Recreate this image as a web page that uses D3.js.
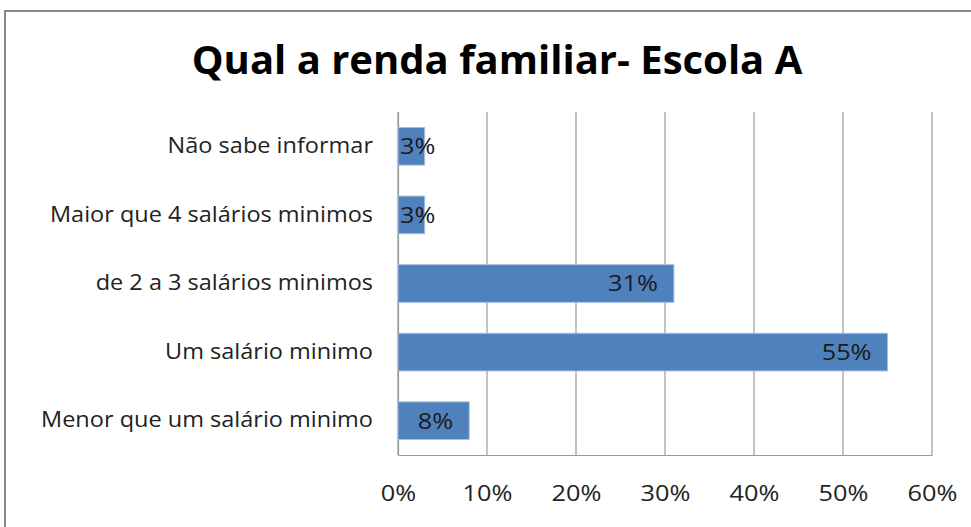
<!DOCTYPE html>
<html>
<head>
<meta charset="utf-8">
<script src="https://cdn.jsdelivr.net/npm/d3@7"></script>
<style>
  body { margin: 0; background: #fff; }
  text { font-family: "Open Sans", sans-serif; }
</style>
</head>
<body>
<div id="chart"></div>
<script>
var categories = ["Não sabe informar", "Maior que 4 salários minimos", "de 2 a 3 salários minimos", "Um salário minimo", "Menor que um salário minimo"];
var values = [3, 3, 31, 55, 8];
var tickValues = [0, 10, 20, 30, 40, 50, 60];

var W = 971, H = 527;
var margin = { top: 112, left: 398, right: 39, bottom: 72 };
var width = W - margin.left - margin.right,
  height = H - margin.top - margin.bottom;

// the original font is wider than Open Sans, so widen text a little
function stretch(sel, k) {
  sel.each(function() {
    var t = d3.select(this);
    var x0 = +t.attr("x") || 0;
    t.attr("x", x0 / k).attr("transform", "scale(" + k + ",1)");
  });
}

var svg = d3.select("#chart").append("svg")
  .attr("width", W)
  .attr("height", H);

// outer frame
svg.append("rect")
  .attr("x", 5).attr("y", 11)
  .attr("width", 1000).attr("height", 600)
  .attr("fill", "none")
  .attr("stroke", "#878787")
  .attr("stroke-width", 2);

svg.append("text")
  .attr("x", 497).attr("y", 74)
  .attr("text-anchor", "middle")
  .style("font-size", "40px")
  .style("font-weight", "bold")
  .text("Qual a renda familiar- Escola A");

var g = svg.append("g")
  .attr("transform", "translate(" + margin.left + "," + margin.top + ")");

var x = d3.scaleLinear().domain([0, 60]).range([0, width]);
var y = d3.scaleBand().domain(categories).range([0, height]).paddingInner(0.45).paddingOuter(0.225);

// gridlines
g.append("g")
  .selectAll("line")
  .data(tickValues)
  .enter()
  .append("line")
  .attr("x1", function(d) { return x(d); })
  .attr("x2", function(d) { return x(d); })
  .attr("y1", 0)
  .attr("y2", height)
  .attr("stroke", "#9a9a9a")
  .attr("stroke-width", 1.2);

var xAxis = d3.axisBottom(x).tickValues(tickValues).tickSize(0).tickPadding(30)
  .tickFormat(function(d) { return d + "%"; });

g.append("g")
  .attr("transform", "translate(0," + height + ")")
  .call(xAxis)
  .call(function(s) {
    s.select(".domain").attr("stroke", "#9a9a9a").attr("stroke-width", 1.2);
    s.selectAll("text").style("font-size", "22px").attr("fill", "#222").call(stretch, 1.15);
  });

var yAxis = d3.axisLeft(y).tickSize(0).tickPadding(25);

g.append("g")
  .call(yAxis)
  .call(function(s) {
    s.select(".domain").attr("stroke", "#9a9a9a").attr("stroke-width", 1.2);
    s.selectAll("text").style("font-size", "21px").attr("fill", "#222").call(stretch, 1.12);
  });

g.selectAll(".bar")
  .data(values)
  .enter()
  .append("rect")
  .attr("class", "bar")
  .attr("x", x(0))
  .attr("y", function(d, i) { return y(categories[i]); })
  .attr("width", function(d) { return x(d) - x(0); })
  .attr("height", y.bandwidth())
  .attr("fill", "#4f81bd")
  .attr("stroke", "#a9c1e0")
  .attr("stroke-width", 1);

var k = 1.15;
g.selectAll(".lbl")
  .data(values)
  .enter()
  .append("text")
  .attr("class", "lbl")
  .attr("y", function(d, i) { return y(categories[i]) + y.bandwidth() / 2; })
  .attr("dy", "0.36em")
  .style("font-size", "22px")
  .attr("fill", "#1a1a1a")
  .attr("transform", "scale(" + k + ",1)")
  .text(function(d) { return d + "%"; })
  .each(function(d) {
    var t = d3.select(this);
    var w = this.getComputedTextLength() * k;
    var right = x(d) - 16;
    if (right - w < x(0) + 2) {
      t.attr("text-anchor", "start").attr("x", (x(0) + 2) / k);
    } else {
      t.attr("text-anchor", "end").attr("x", right / k);
    }
  });
</script>
</body>
</html>
